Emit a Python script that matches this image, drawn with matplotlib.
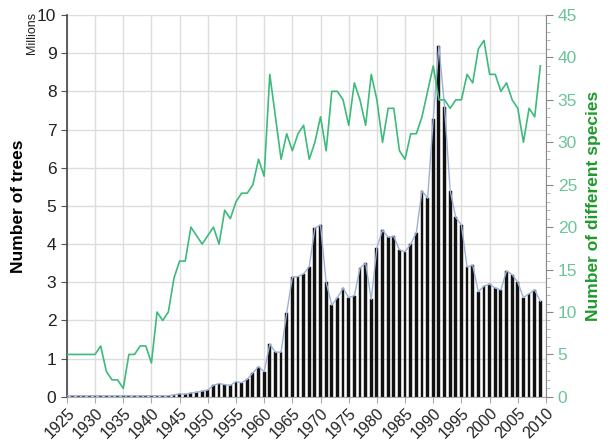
import numpy as np
import matplotlib.pyplot as plt
#----------------------------------------------------------
years = list(range(1925, 2010))

# number of trees, millions (one value per year 1925..2009)
trees = [0.03] * 19 + [
	0.05,                                   # 1944
	0.08, 0.07, 0.10, 0.12, 0.15,           # 1945-1949
	0.18, 0.30, 0.35, 0.32, 0.30,           # 1950-1954
	0.40, 0.37, 0.46, 0.63, 0.79,           # 1955-1959
	0.66, 1.38, 1.17, 1.17, 2.20,           # 1960-1964
	3.13, 3.15, 3.22, 3.41, 4.42,           # 1965-1969
	4.50, 3.00, 2.40, 2.60, 2.85,           # 1970-1974
	2.60, 2.65, 3.37, 3.50, 2.55,           # 1975-1979
	3.90, 4.37, 4.18, 4.20, 3.85,           # 1980-1984
	3.80, 4.00, 4.30, 5.40, 5.20,           # 1985-1989
	7.27, 9.20, 7.60, 5.40, 4.70,           # 1990-1994
	4.50, 3.40, 3.45, 2.75, 2.90,           # 1995-1999
	2.95, 2.85, 2.80, 3.30, 3.20,           # 2000-2004
	3.00, 2.60, 2.70, 2.80, 2.50,           # 2005-2009
]

# number of different species
species = [
	5, 5, 5, 5, 5,          # 1925-1929
	5, 6, 3, 2, 2,          # 1930-1934
	1, 5, 5, 6, 6,          # 1935-1939
	4, 10, 9, 10, 14,       # 1940-1944
	16, 16, 20, 19, 18,     # 1945-1949
	19, 20, 18, 22, 21,     # 1950-1954
	23, 24, 24, 25, 28,     # 1955-1959
	26, 38, 33, 28, 31,     # 1960-1964
	29, 31, 32, 28, 30,     # 1965-1969
	33, 29, 36, 36, 35,     # 1970-1974
	32, 37, 35, 32, 38,     # 1975-1979
	35, 30, 34, 34, 29,     # 1980-1984
	28, 31, 31, 33, 36,     # 1985-1989
	39, 35, 35, 34, 35,     # 1990-1994
	35, 38, 37, 41, 42,     # 1995-1999
	38, 38, 36, 37, 35,     # 2000-2004
	34, 30, 34, 33, 39,     # 2005-2009
]

xticks = list(range(1925, 2011, 5))
#----------------------------------------------------------
plt.rcParams['font.family'] = ['Liberation Sans', 'DejaVu Sans']

green = "#3dba7c"
tickgreen = "#6cc49a"
labelgreen = "#1f9a2c"

fig = plt.figure(figsize=(6.08, 4.4), dpi=100)
ax = fig.add_axes([0.110, 0.098, 0.788, 0.868])

ax.set_axisbelow(True)
ax.grid(True, color="#dddddd", linewidth=1)
ax.bar(years, trees, width=0.5, color="#111111", edgecolor="#111111", linewidth=0.3, zorder=2)
ax.plot(years, trees, color="#9db1d6", linewidth=1.0, zorder=3)

ax.set_xlim(1925, 2010)
ax.set_ylim(0, 10)
ax.set_xticks(xticks)
ax.set_xticklabels([str(x) for x in xticks], rotation=45, ha="right", rotation_mode="anchor", fontsize=11.5, color="#222222")
ax.set_yticks(range(0, 11))
ax.tick_params(axis="y", labelsize=12.5, labelcolor="#222222", direction="out", length=4, color="#555555")
ax.tick_params(axis="x", direction="out", length=4, color="#aaaaaa", pad=2)
for s in ["top", "right"]:
	ax.spines[s].set_visible(False)
ax.spines["left"].set_color("#444444")
ax.spines["left"].set_linewidth(1.2)
ax.spines["bottom"].set_color("#aaaaaa")

ax.set_ylabel("Number of trees", fontsize=12.5, fontweight="bold", labelpad=8)
fig.text(0.052, 0.925, "Millions", rotation=90, fontsize=9, color="#222222", ha="center", va="center")

ax2 = ax.twinx()
ax2.plot(years, species, color=green, linewidth=1.2, zorder=4)
ax2.set_ylim(0, 45)
ax2.set_yticks(range(0, 46, 5))
ax2.set_yticks(range(0, 46, 1), minor=True)
ax2.tick_params(axis="y", which="major", labelsize=12.5, labelcolor=tickgreen, color="#888888", length=5)
ax2.tick_params(axis="y", which="minor", color="#aaaaaa", length=3)
for s in ["top", "left", "bottom"]:
	ax2.spines[s].set_visible(False)
ax2.spines["right"].set_color("#888888")
ax2.set_ylabel("Number of different species", fontsize=12.5, fontweight="bold", color=labelgreen, labelpad=6)

fig.savefig("out.png", dpi=100)
